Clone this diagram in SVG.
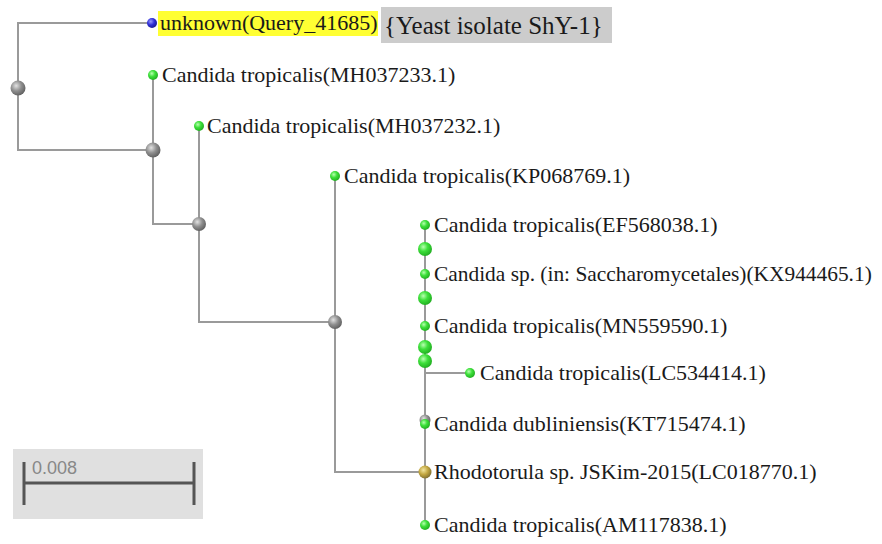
<svg xmlns="http://www.w3.org/2000/svg" width="882" height="544" viewBox="0 0 882 544">
<defs>
<radialGradient id="gGreen" cx="0.38" cy="0.35" r="0.7">
<stop offset="0" stop-color="#b8ffb0"/>
<stop offset="0.45" stop-color="#3de03a"/>
<stop offset="1" stop-color="#1faa1f"/>
</radialGradient>
<radialGradient id="gGray" cx="0.38" cy="0.35" r="0.7">
<stop offset="0" stop-color="#e2e2e2"/>
<stop offset="0.5" stop-color="#8f8f8f"/>
<stop offset="1" stop-color="#5c5c5c"/>
</radialGradient>
<radialGradient id="gBlue" cx="0.38" cy="0.35" r="0.7">
<stop offset="0" stop-color="#9a9aff"/>
<stop offset="0.5" stop-color="#3030d8"/>
<stop offset="1" stop-color="#1a1a90"/>
</radialGradient>
<radialGradient id="gOlive" cx="0.38" cy="0.35" r="0.7">
<stop offset="0" stop-color="#f2e6a0"/>
<stop offset="0.5" stop-color="#c2a640"/>
<stop offset="1" stop-color="#7a6a30"/>
</radialGradient>
</defs>
<style>
.br{stroke:#9a9a9a;stroke-width:2;fill:none}
.leaf{fill:url(#gGreen)}
.inner{fill:url(#gGray)}
</style>
<rect width="882" height="544" fill="#ffffff"/>
<g id="connectors">
<path class="br" d="M152,23 H18 V150 H153"/>
<path class="br" d="M153,75 V224 H199"/>
<path class="br" d="M199,126 V322 H335"/>
<path class="br" d="M335,176 V472 H425"/>
<path class="br" d="M425,225 V525"/>
<path class="br" d="M425,373 H470"/>
</g>
<g id="n-root"><circle class="inner" cx="18" cy="88" r="7.5"/></g>
<g id="n-i1"><circle class="inner" cx="153" cy="150" r="7.5"/></g>
<g id="n-i2"><circle class="inner" cx="199" cy="224" r="7"/></g>
<g id="n-i3"><circle class="inner" cx="335" cy="322" r="7"/></g>
<g font-family="Liberation Serif,Times New Roman,serif" font-size="22" fill="#1a1a1a">
<g id="n-query">
<rect x="158" y="11" width="220" height="25" fill="#ffff33"/>
<rect x="381" y="7" width="231" height="36" fill="#cccccc"/>
<circle cx="152" cy="23" r="5" fill="url(#gBlue)"/>
<text x="160" y="30">unknown(Query_41685)</text>
<text x="384" y="34" font-size="25">{Yeast isolate ShY-1}</text>
</g>
<g id="n-MH037233"><circle class="leaf" cx="153" cy="75" r="5"/><text x="162" y="82">Candida tropicalis(MH037233.1)</text></g>
<g id="n-MH037232"><circle class="leaf" cx="199" cy="126" r="5"/><text x="207" y="133">Candida tropicalis(MH037232.1)</text></g>
<g id="n-KP068769"><circle class="leaf" cx="335" cy="176" r="5"/><text x="344" y="183">Candida tropicalis(KP068769.1)</text></g>
<g id="n-big"><circle class="leaf" cx="425" cy="249" r="7"/><circle class="leaf" cx="425" cy="298" r="7"/><circle class="leaf" cx="425" cy="347" r="7"/><circle class="leaf" cx="425" cy="361" r="7"/></g>
<g id="n-EF568038"><circle class="leaf" cx="425" cy="225" r="5"/><text x="434" y="232">Candida tropicalis(EF568038.1)</text></g>
<g id="n-KX944465"><circle class="leaf" cx="425" cy="274" r="5"/><text x="434" y="281" font-size="21.4">Candida sp. (in: Saccharomycetales)(KX944465.1)</text></g>
<g id="n-MN559590"><circle class="leaf" cx="425" cy="326" r="5"/><text x="434" y="333">Candida tropicalis(MN559590.1)</text></g>
<g id="n-LC534414"><circle class="leaf" cx="470" cy="373" r="5"/><text x="480" y="380">Candida tropicalis(LC534414.1)</text></g>
<g id="n-KT715474"><circle cx="425" cy="420" r="5.5" fill="url(#gGray)"/><circle class="leaf" cx="425" cy="424" r="5"/><text x="434" y="431">Candida dubliniensis(KT715474.1)</text></g>
<g id="n-LC018770"><circle cx="425" cy="472" r="6.5" fill="url(#gOlive)"/><text x="434" y="479">Rhodotorula sp. JSKim-2015(LC018770.1)</text></g>
<g id="n-AM117838"><circle class="leaf" cx="425" cy="525" r="5"/><text x="434" y="532">Candida tropicalis(AM117838.1)</text></g>
</g>
<g id="scale">
<rect x="13" y="449" width="190" height="70" fill="#e0e0e0"/>
<path d="M24,462 V505 M194,462 V505 M24,483 H194" stroke="#555555" stroke-width="3" fill="none"/>
<text x="32" y="474" font-family="Liberation Sans,Arial,sans-serif" font-size="18" fill="#888888">0.008</text>
</g>
</svg>
